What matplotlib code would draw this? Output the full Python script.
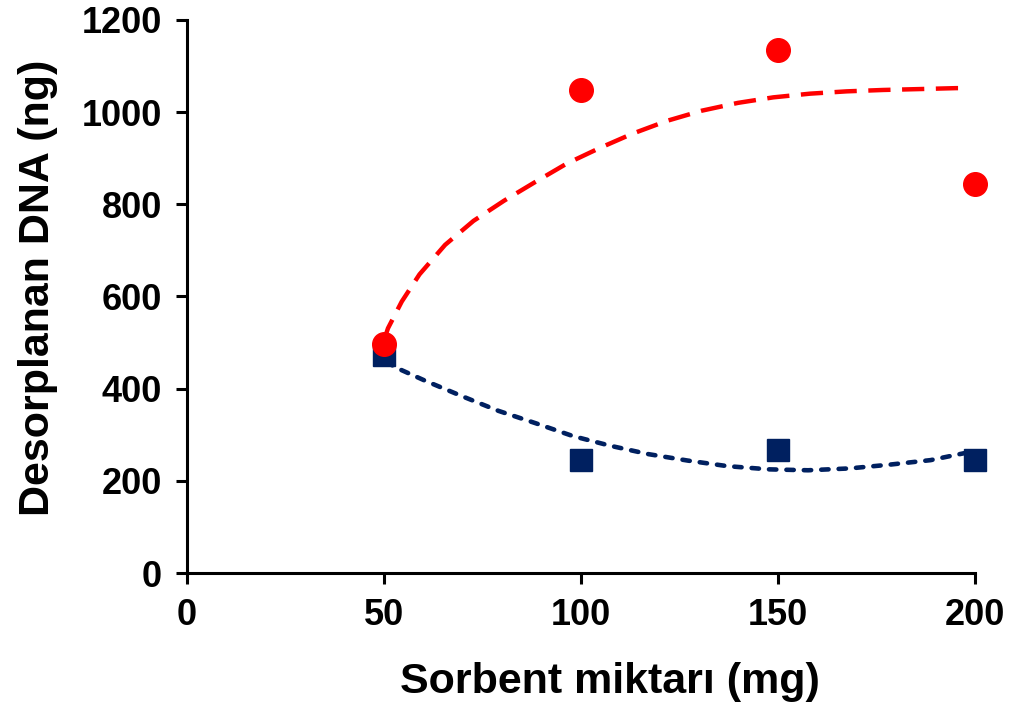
import matplotlib
matplotlib.use("Agg")
import matplotlib.pyplot as plt

plt.rcParams["font.family"] = ["Liberation Sans", "DejaVu Sans"]
plt.rcParams["font.weight"] = "bold"

# measured points
sorbent_mg = [50, 100, 150, 200]
dna_red = [498, 1049, 1134, 845]
dna_blue = [473, 245, 267, 245]

# trend lines
red_trend_x = [50.0, 51.0, 54.5, 59.0, 65.5, 72.7, 80.5, 88.3, 96.3, 104.7, 113.0,
               121.8, 130.6, 139.8, 148.8, 158.1, 167.4, 176.6, 186.1, 195.2, 198.5]
red_trend_y = [505, 531, 589, 648, 712, 764, 808, 848, 888, 922, 953,
               981, 1003, 1020, 1032, 1040, 1045, 1048, 1050, 1052, 1052]

blue_trend_x = [50.5, 54.0, 60.5, 70.0, 79.0, 88.5, 98.0, 107.5, 117.1, 127.1,
                137.1, 147.6, 157.6, 168.1, 178.1, 188.7, 197.2]
blue_trend_y = [458, 442, 417, 383, 352, 325, 297, 276, 258, 244,
                232, 225, 223, 227, 235, 245, 260]

x_ticks = [0, 50, 100, 150, 200]
y_ticks = [0, 200, 400, 600, 800, 1000, 1200]

RED = "#FF0000"
NAVY = "#002060"

fig = plt.figure(figsize=(10.13, 7.11), dpi=100)
ax = fig.add_axes([0.1846, 0.194, 0.778, 0.778])

ax.plot(blue_trend_x, blue_trend_y, color=NAVY, lw=3.3, linestyle=(0, (1.6, 2.2)),
        dash_capstyle="round", zorder=2, clip_on=False)
ax.plot(sorbent_mg, dna_blue, "s", color=NAVY, markersize=16, zorder=3, clip_on=False)
ax.plot(red_trend_x, red_trend_y, color=RED, lw=3.2, linestyle=(0, (5, 2.6)),
        zorder=4, clip_on=False)
ax.plot(sorbent_mg, dna_red, "o", color=RED, markersize=17, zorder=5, clip_on=False)

ax.set_xlim(0, 200)
ax.set_ylim(0, 1200)
ax.set_xticks(x_ticks)
ax.set_yticks(y_ticks)

for s in ["top", "right"]:
    ax.spines[s].set_visible(False)
for s in ["left", "bottom"]:
    ax.spines[s].set_linewidth(2.2)
    ax.spines[s].set_color("black")

ax.tick_params(direction="out", length=8, width=2.2, labelsize=26, pad=10)
for lbl in ax.get_xticklabels() + ax.get_yticklabels():
    lbl.set_fontweight("bold")

ax.set_xlabel("Sorbent miktarı (mg)", fontsize=31, fontweight="bold")
ax.set_ylabel("Desorplanan DNA (ng)", fontsize=31, fontweight="bold")
ax.xaxis.set_label_coords(0.537, -0.16, transform=ax.transAxes)
ax.yaxis.set_label_coords(-0.164, 0.515, transform=ax.transAxes)

fig.savefig("out.png", dpi=100)
